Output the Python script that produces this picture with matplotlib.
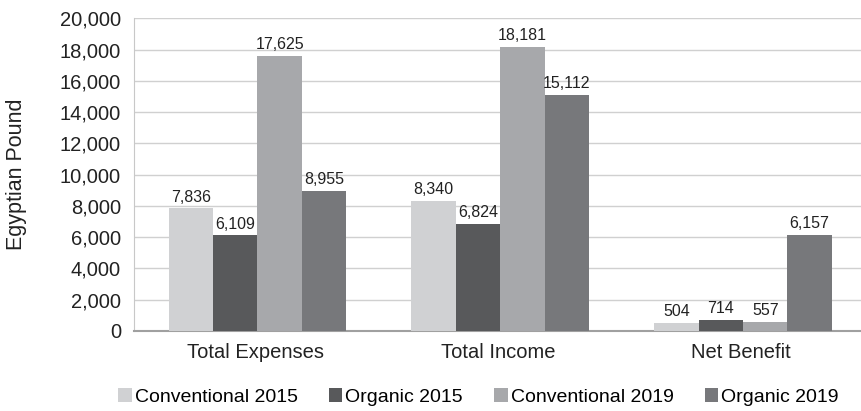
import matplotlib.pyplot as plt
import numpy as np
from matplotlib.ticker import FuncFormatter

plt.rcParams['font.family'] = ['Liberation Sans', 'DejaVu Sans']

categories = ['Total Expenses', 'Total Income', 'Net Benefit']
series = ['Conventional 2015', 'Organic 2015', 'Conventional 2019', 'Organic 2019']
conv_2015 = [7836, 8340, 504]
org_2015 = [6109, 6824, 714]
conv_2019 = [17625, 18181, 557]
org_2019 = [8955, 15112, 6157]
colors = ['#d0d1d3', '#58595b', '#a7a8ab', '#77787b']

values = [conv_2015, org_2015, conv_2019, org_2019]

fig = plt.figure(figsize=(8.62, 4.11), dpi=100)
ax = fig.add_axes([0.155, 0.195, 0.845, 0.76])

x = np.arange(len(categories))
w = 0.183
for i, (vals, name, c) in enumerate(zip(values, series, colors)):
    pos = x + 0.01 + (i - 1.5) * w
    ax.bar(pos, vals, width=w, color=c, label=name, zorder=3)
    for p, v in zip(pos, vals):
        ax.text(p, v + 250, f'{v:,}', ha='center', va='bottom', fontsize=11.5, color='#222222')

ax.set_xlim(-0.5, 2.5)
ax.set_ylim(0, 20000)
ax.set_yticks(range(0, 20001, 2000))
ax.yaxis.set_major_formatter(FuncFormatter(lambda v, p: f'{int(v):,}'))
ax.set_xticks(x)
ax.set_xticklabels(categories)
ax.tick_params(axis='both', length=0, labelsize=14.5, colors='#222222')
ax.tick_params(axis='y', pad=9)
ax.tick_params(axis='x', pad=9)
ax.grid(axis='y', color='#d0d0d0', linewidth=1, zorder=0)
for s in ['top', 'right']:
    ax.spines[s].set_visible(False)
ax.spines['left'].set_color('#c8c8c8')
ax.spines['bottom'].set_color('#a0a0a0')
ax.spines['bottom'].set_linewidth(1.5)
ax.set_ylabel('Egyptian Pound', fontsize=15.5, color='#222222', labelpad=24)

fig.legend(loc='lower center', bbox_to_anchor=(0.555, -0.03), ncol=4, frameon=False,
           fontsize=14, handlelength=0.7, handleheight=0.7, handletextpad=0.15, columnspacing=1.6)

fig.savefig('out.png', dpi=100)
